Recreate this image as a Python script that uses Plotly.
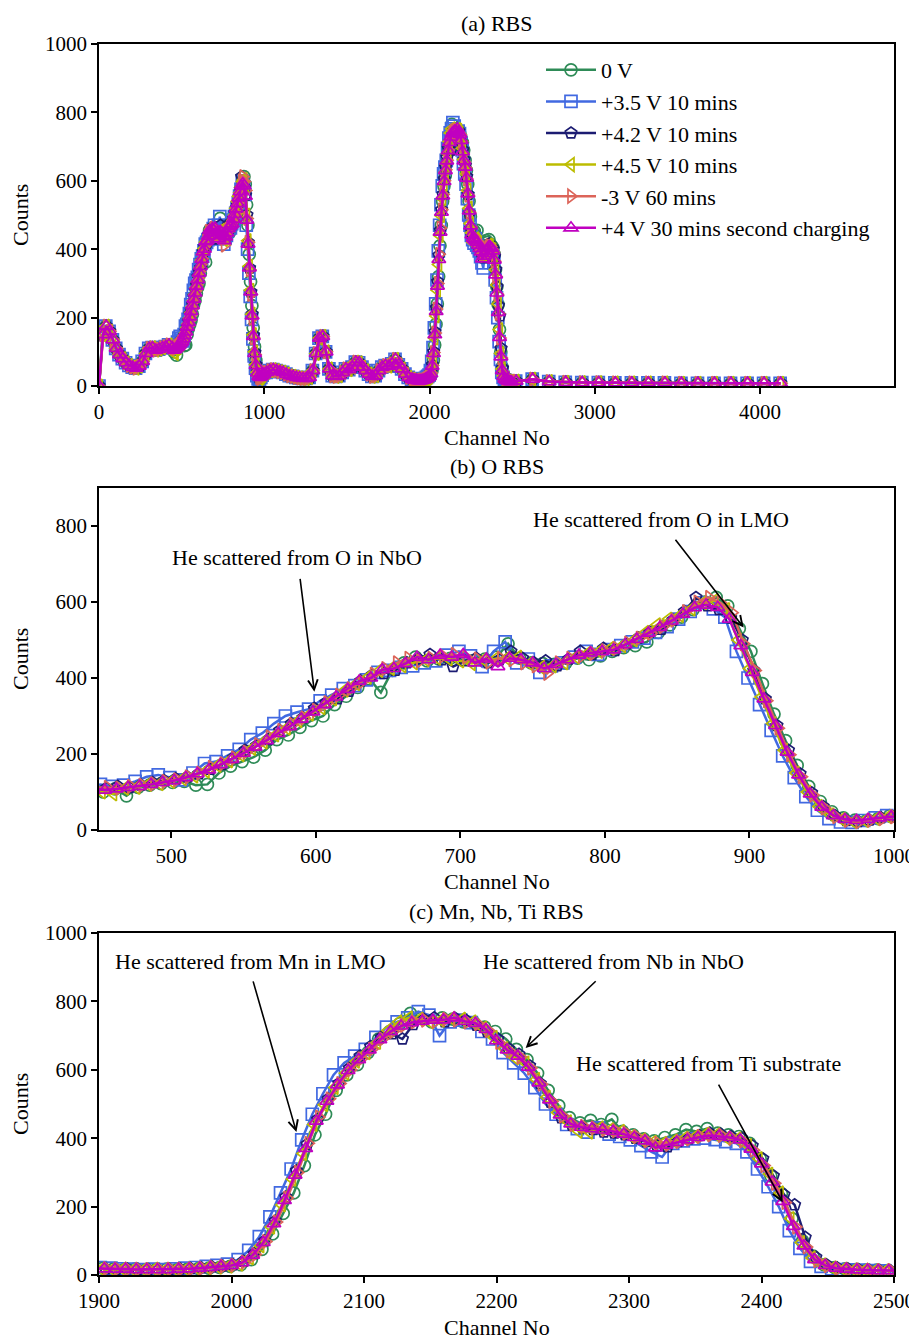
import plotly.graph_objects as go

# channel grids: fine inside the zoomed windows, coarse elsewhere
ch_low = list(range(0, 441, 20))
ch_o = list(range(450, 1000, 8))
ch_mid = list(range(1010, 1891, 20))
ch_metal = list(range(1900, 2500, 8))
ch_tail = list(range(2520, 4121, 100))

# background pieces (all runs overlap there)
low_counts = [0, 150, 175, 160, 135, 110, 92, 80, 68, 60, 55, 52, 58, 72, 95, 110,
              112, 105, 108, 112, 115, 120, 112]
mid_counts = [40, 45, 48, 45, 42, 40, 35, 30, 28, 25, 24, 22, 22, 25, 45, 95, 140, 145,
              100, 50, 30, 28, 30, 40, 50, 48, 55, 70, 68, 55, 45, 35, 28, 30, 45, 55,
              60, 58, 65, 78, 62, 50, 35, 25, 20]
tail_counts = [14, 20, 13, 11, 10, 10, 9, 9, 9, 9, 8, 8, 8, 8, 8, 8, 8]

labels = ["0 V", "+3.5 V 10 mins", "+4.2 V 10 mins", "+4.5 V 10 mins",
          "-3 V 60 mins", "+4 V 30 mins second charging"]
colors = ["#2e8b57", "#4169e1", "#1c1c72", "#bcbc00", "#dc6459", "#c000c0"]
symbols = ["circle-open", "square-open", "pentagon-open", "triangle-left-open",
           "triangle-right-open", "triangle-up-open"]
shift = [3, 1, 5, 2, 6, 4]

# O window (channels 450-994)
o_counts = [
    [100, 108, 90, 112, 118, 122, 125, 128, 118, 120,
     150, 168, 180, 192, 210, 238, 250, 270, 288, 300,
     330, 352, 375, 398, 362, 420, 440, 455, 445, 450,
     452, 448, 446, 450, 455, 490, 452, 440, 438, 436,
     440, 452, 448, 458, 470, 480, 485, 495, 520, 540,
     560, 580, 600, 612, 590, 530, 470, 385, 305, 235,
     170, 115, 75, 48, 32, 26, 25, 30, 38],
    [120, 115, 118, 128, 140, 145, 138, 132, 150, 175,
     180, 195, 212, 238, 255, 280, 300, 310, 318, 340,
     355, 372, 380, 395, 415, 420, 428, 432, 440, 445,
     460, 470, 458, 430, 470, 495, 440, 450, 415, 432,
     440, 455, 470, 462, 475, 485, 495, 505, 520, 535,
     555, 575, 598, 582, 560, 470, 400, 330, 262, 195,
     138, 88, 52, 30, 21, 20, 25, 32, 38],
    [110, 115, 112, 118, 125, 130, 135, 140, 148, 160,
     172, 190, 210, 222, 238, 262, 280, 295, 320, 335,
     345, 365, 392, 408, 412, 420, 440, 450, 462, 448,
     430, 445, 452, 440, 448, 470, 452, 440, 445, 432,
     450, 470, 462, 478, 472, 490, 505, 520, 528, 552,
     575, 612, 590, 580, 558, 500, 420, 345, 275, 210,
     148, 98, 62, 38, 25, 22, 26, 32, 35],
    [100, 95, 110, 112, 120, 122, 128, 135, 142, 155,
     170, 182, 198, 215, 232, 250, 268, 288, 305, 322,
     345, 368, 385, 402, 420, 425, 432, 440, 448, 452,
     450, 445, 438, 448, 450, 452, 455, 438, 428, 432,
     440, 455, 465, 470, 478, 485, 500, 520, 540, 555,
     565, 582, 598, 604, 580, 500, 425, 350, 280, 210,
     150, 100, 62, 40, 28, 22, 25, 30, 35],
    [112, 110, 115, 118, 122, 128, 132, 140, 150, 165,
     175, 190, 205, 225, 245, 262, 278, 295, 315, 335,
     355, 372, 390, 410, 425, 440, 452, 445, 452, 458,
     462, 455, 450, 442, 452, 448, 440, 432, 412, 440,
     452, 458, 465, 472, 478, 492, 505, 518, 535, 552,
     575, 600, 612, 598, 572, 490, 420, 340, 268, 198,
     140, 92, 58, 35, 25, 22, 26, 30, 35],
    [105, 108, 112, 115, 120, 125, 130, 138, 148, 158,
     172, 186, 202, 218, 235, 254, 272, 292, 311, 330,
     350, 370, 392, 400, 422, 425, 438, 455, 448, 460,
     455, 462, 440, 450, 430, 452, 448, 440, 425, 436,
     448, 460, 466, 470, 474, 488, 502, 518, 533, 550,
     568, 585, 592, 586, 555, 485, 415, 345, 275, 205,
     145, 95, 60, 38, 28, 25, 28, 32, 35],
]

# Mn / Nb / Ti window (channels 1900-2492)
metal_counts = [
    [20, 18, 16, 17, 15, 16, 17, 16, 18, 19,
     20, 22, 25, 30, 45, 75, 120, 180, 240, 320,
     410, 470, 540, 585, 615, 650, 690, 710, 735, 765,
     750, 740, 752, 748, 740, 738, 725, 712, 690, 660,
     630, 590, 540, 495, 460, 445, 452, 440, 455, 420,
     410, 398, 392, 402, 410, 425, 420, 428, 415, 410,
     405, 385, 340, 290, 238, 165, 100, 55, 30, 22,
     18, 16, 14, 14, 13],
    [22, 20, 18, 17, 16, 17, 16, 18, 20, 22,
     25, 28, 32, 45, 72, 112, 170, 240, 310, 395,
     470, 530, 585, 620, 640, 660, 695, 725, 740, 752,
     770, 760, 700, 740, 745, 738, 712, 690, 650, 620,
     590, 548, 500, 470, 440, 428, 418, 430, 412, 405,
     395, 378, 360, 345, 385, 392, 398, 400, 396, 390,
     385, 360, 310, 258, 200, 130, 78, 40, 25, 18,
     16, 15, 14, 13, 12],
    [18, 17, 18, 17, 16, 15, 17, 18, 19, 21,
     24, 26, 30, 40, 62, 100, 158, 228, 305, 382,
     455, 515, 560, 605, 640, 668, 695, 705, 690, 732,
     748, 752, 740, 750, 745, 730, 712, 690, 662, 645,
     612, 560, 505, 460, 438, 430, 425, 418, 415, 410,
     400, 390, 378, 375, 390, 398, 408, 415, 412, 405,
     400, 378, 340, 290, 235, 205, 110, 52, 30, 21,
     18, 16, 14, 13, 13],
    [17, 16, 17, 15, 16, 17, 15, 16, 17, 19,
     21, 23, 26, 32, 50, 85, 140, 205, 280, 355,
     440, 498, 548, 590, 625, 650, 680, 715, 740, 752,
     748, 740, 745, 750, 748, 740, 722, 695, 662, 635,
     620, 572, 520, 475, 448, 420, 418, 430, 425, 420,
     405, 395, 388, 385, 392, 400, 405, 412, 410, 400,
     398, 378, 340, 295, 240, 165, 95, 50, 30, 21,
     17, 15, 14, 13, 13],
    [19, 18, 17, 17, 16, 16, 17, 17, 18, 20,
     23, 26, 29, 38, 60, 98, 155, 225, 300, 385,
     462, 515, 560, 600, 632, 660, 690, 712, 730, 740,
     745, 742, 748, 745, 740, 735, 715, 680, 655, 638,
     605, 558, 508, 465, 440, 435, 430, 425, 422, 415,
     405, 392, 385, 382, 390, 398, 405, 410, 408, 400,
     392, 365, 320, 268, 212, 140, 82, 42, 27, 19,
     16, 15, 14, 13, 13],
    [18, 17, 17, 16, 16, 16, 16, 17, 18, 20,
     22, 25, 28, 36, 58, 95, 150, 218, 292, 370,
     450, 508, 556, 598, 630, 658, 688, 712, 728, 738,
     742, 745, 746, 752, 742, 736, 718, 685, 658, 640,
     608, 562, 512, 468, 442, 432, 428, 424, 420, 412,
     402, 392, 372, 380, 388, 395, 402, 408, 406, 402,
     395, 368, 325, 272, 215, 142, 85, 45, 28, 20,
     17, 15, 14, 13, 13],
]

for o, m in zip(o_counts, metal_counts):
    assert len(o) == len(ch_o) and len(m) == len(ch_metal)

FONT = "Liberation Serif, Times New Roman, serif"
OFF = 8  # page body margin around the plot div
W, H = 917 - OFF, 1339 - OFF


def fx(px):
    return (px - OFF) / W


def fy(py):
    return 1 - (py - OFF) / H


X0, X1 = 99, 894
panels = [  # (top px, bottom px, x range, x tick step, y range)
    (44, 386, [0, 4810], 1000, [0, 1000]),
    (488, 830, [450, 1000], 100, [0, 900]),
    (933, 1275, [1900, 2500], 100, [0, 1000]),
]
titles = ["(a) RBS", "(b) O RBS", "(c) Mn, Nb, Ti RBS"]

fig = go.Figure()
channels = ch_low + ch_o + ch_mid + ch_metal + ch_tail
for p in range(3):
    suffix = "" if p == 0 else str(p + 1)
    for i in range(6):
        x = [c + shift[i] for c in channels]
        x[0] = channels[0]
        y = low_counts + o_counts[i] + mid_counts + metal_counts[i] + tail_counts
        fig.add_trace(go.Scatter(
            x=x, y=y, mode="lines+markers", name=labels[i],
            legendgroup=labels[i], showlegend=(p == 0),
            xaxis="x" + suffix, yaxis="y" + suffix,
            line=dict(color=colors[i], width=2.5),
            marker=dict(symbol=symbols[i], size=12, color=colors[i],
                        line=dict(width=1.7, color=colors[i])),
        ))

axis_common = dict(showline=True, mirror=True, linecolor="black", linewidth=1.5,
                   ticks="outside", ticklen=6, tickwidth=1.5, tickcolor="black",
                   showgrid=False, zeroline=False, automargin=False,
                   tickfont=dict(family=FONT, size=21, color="black"))
annotations = []
mid_x = fx((X0 + X1) / 2)
for p, (top, bot, xr, dx, yr) in enumerate(panels):
    suffix = "" if p == 0 else str(p + 1)
    fig.update_layout({
        "xaxis" + suffix: dict(axis_common, domain=[fx(X0), fx(X1)], range=xr,
                               dtick=dx, anchor="y" + suffix),
        "yaxis" + suffix: dict(axis_common, domain=[fy(bot), fy(top)], range=yr,
                               dtick=200, anchor="x" + suffix),
    })
    for txt, x, y, ang in [(titles[p], mid_x, fy(top - 21), 0),
                           ("Channel No", mid_x, fy(bot + 52), 0),
                           ("Counts", fx(20), fy((top + bot) / 2), -90)]:
        annotations.append(dict(text=txt, x=x, y=y, xref="paper", yref="paper",
                                xanchor="center", yanchor="middle", textangle=ang,
                                showarrow=False, font=dict(size=22)))

# text labels and arrows (tail -> head) in data units
notes = [
    ("x2", "y2", "He scattered from O in NbO", 587, 718, 589, 665, 599, 364),
    ("x2", "y2", "He scattered from O in LMO", 839, 818, 848, 768, 896, 533),
    ("x3", "y3", "He scattered from Mn in LMO", 2014, 918, 2016, 863, 2049, 418),
    ("x3", "y3", "He scattered from Nb in NbO", 2288, 918, 2276, 863, 2222, 664),
    ("x3", "y3", "He scattered from Ti substrate", 2360, 617, 2367, 561, 2416, 213),
]
for xr, yr, txt, tx, ty, ax, ay, hx, hy in notes:
    annotations.append(dict(text=txt, x=tx, y=ty, xref=xr, yref=yr, showarrow=False,
                            xanchor="center", yanchor="middle", font=dict(size=22)))
    annotations.append(dict(text="", x=hx, y=hy, ax=ax, ay=ay, xref=xr, yref=yr,
                            axref=xr, ayref=yr, showarrow=True, arrowhead=5,
                            arrowsize=1.2, arrowwidth=1.6, arrowcolor="black"))

fig.update_layout(
    width=W, height=H, margin=dict(l=0, r=0, t=0, b=0),
    plot_bgcolor="white", paper_bgcolor="white",
    font=dict(family=FONT, size=22, color="black"),
    annotations=annotations,
    legend=dict(x=fx(541), y=fy(49), xanchor="left", yanchor="top",
                bgcolor="rgba(0,0,0,0)", itemwidth=50, tracegroupgap=0,
                font=dict(family=FONT, size=22, color="black")),
)

fig.write_html("out.html")
